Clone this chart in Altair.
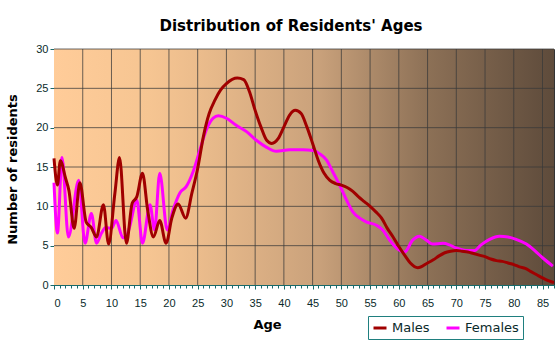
import altair as alt
import pandas as pd

# ---- data ----
male_ages = [0, 0.6, 1.1, 2, 2.6, 3.5, 4.5, 5.6, 6.5, 7.4, 8.6, 9.5, 10.6, 11.4, 12.6,
             13.6, 14.4, 15.4, 16.3, 17.3, 18.4, 19.5, 20.5, 21.6, 22.9, 24, 25, 26, 27,
             28, 29, 30, 31.9, 33, 34, 35, 36, 37, 37.9, 39, 40, 41, 42, 43, 44, 45, 46,
             47, 48, 49, 50, 51, 52, 53, 54, 55, 56, 57, 58, 59, 60, 61, 62, 63.3, 65,
             66, 67, 68, 69, 70, 71, 72, 73, 74, 75, 76, 77, 78, 79, 80, 81, 82, 83, 84,
             85, 86, 87]
male_vals = [16.1, 12.7, 15.8, 13.6, 12.0, 7.2, 13.0, 8.0, 7.3, 6.1, 10.2, 5.2, 11.7, 16.2, 5.3,
             10.4, 11.2, 14.2, 9.5, 6.1, 8.2, 5.3, 8.5, 10.3, 8.5, 11.7, 14.8, 18.9, 21.8,
             23.5, 24.8, 25.6, 26.3, 26.1, 24.6, 22.2, 20.1, 18.4, 18.0, 18.6, 20.1, 21.6, 22.2, 21.8, 20.1, 18.0, 15.8,
             14.2, 13.3, 12.9, 12.7, 12.4, 11.9, 11.2, 10.6, 10.0, 9.3, 8.5, 7.2, 6.1, 4.9, 3.8, 2.8, 2.2, 2.8,
             3.2, 3.7, 4.1, 4.3, 4.4, 4.3, 4.2, 4.0, 3.8, 3.6, 3.3, 3.1, 3.0, 2.8, 2.6, 2.3, 2.1, 1.7, 1.3,
             0.9, 0.55, 0.3]

female_ages = [0, 0.6, 1.4, 2.5, 4.3, 5.4, 6.5, 7.4, 8.2, 9, 10, 10.8, 12, 12.5, 13.2, 14.4,
               15.4, 16.7, 17.5, 18.4, 19.7, 20.7, 21.9, 23, 24.2, 25.4, 26.5, 27.7, 28.6,
               30, 31.7, 33.5, 35.2, 37, 38.7, 41, 43.3, 45.1, 46.2, 47.4, 48.5, 49.7, 50.9,
               52, 53.2, 54.4, 56.1, 57.2, 58.4, 59.6, 61, 62.4, 63.6, 64.8, 65.9, 67.7, 68.8,
               70, 71.7, 73.2, 74.3, 75.8, 77.5, 79, 80.4, 82.2, 83.6, 85.1, 86.8]
female_vals = [13.0, 6.6, 16.2, 6.1, 13.3, 5.3, 9.1, 5.3, 6.5, 7.3, 7.2, 8.2, 6.0, 6.0, 7.5, 10.8,
               5.3, 10.2, 7.0, 14.2, 7.0, 9.5, 11.7, 12.5, 14.4, 17.2, 19.7, 21.2, 21.5,
               21.2, 20.3, 19.5, 18.4, 17.5, 17.0, 17.2, 17.2, 17.1, 16.7, 15.9, 14.4, 12.7, 10.8,
               9.3, 8.5, 8.0, 7.6, 7.0, 5.7, 4.7, 4.2, 5.7, 6.2, 5.7, 5.2, 5.3, 5.1,
               4.7, 4.4, 4.4, 5.1, 5.8, 6.2, 6.1, 5.8, 5.2, 4.4, 3.4, 2.4]

series = ["Males", "Females"]
colors = ["#A00000", "#FF00FF"]
x_ticks = list(range(0, 90, 5))
x_minor = list(range(0, 88))
y_ticks = list(range(0, 35, 5))

rows = [{"age": a, "n": v, "sex": "Females"} for a, v in zip(female_ages, female_vals)]
rows += [{"age": a, "n": v, "sex": "Males"} for a, v in zip(male_ages, male_vals)]
df = pd.DataFrame(rows)

FONT = "Liberation Sans"
WIDE = "DejaVu Sans"
W, H = 500, 236
AXIS_COLOR = "#186A6A"
LABEL_COLOR = "#0A2A2A"
GRID_COLOR = "#3A3A3A"

xscale = alt.Scale(domain=[0, 87], nice=False, zero=False)
yscale = alt.Scale(domain=[0, 30], nice=False)

grad = alt.LinearGradient(
    gradient="linear",
    stops=[alt.GradientStop(color="#FFCC99", offset=0),
           alt.GradientStop(color="#F6C592", offset=0.19),
           alt.GradientStop(color="#EBBC8C", offset=0.29),
           alt.GradientStop(color="#C9A17B", offset=0.53),
           alt.GradientStop(color="#8C7056", offset=0.75),
           alt.GradientStop(color="#5E4B3B", offset=1)],
    x1=0, x2=1, y1=0, y2=0,
)

bg = alt.Chart(pd.DataFrame({"k": [0]})).mark_rect(fill=grad).encode(
    x=alt.value(0), x2=alt.value(W), y=alt.value(0), y2=alt.value(H)
)

vgrid = alt.Chart(pd.DataFrame({"g": x_ticks[1:]})).mark_rule(
    color=GRID_COLOR, strokeWidth=1, opacity=0.75
).encode(x=alt.X("g:Q", scale=xscale, axis=None))

hgrid = alt.Chart(pd.DataFrame({"g": y_ticks[1:]})).mark_rule(
    color=GRID_COLOR, strokeWidth=1, opacity=0.75
).encode(y=alt.Y("g:Q", scale=yscale, axis=None))

lines = alt.Chart(df).mark_line(interpolate="monotone", strokeWidth=3).encode(
    x=alt.X("age:Q", scale=xscale, title="Age",
            axis=alt.Axis(values=x_ticks, orient="bottom", grid=False, tickSize=4,
                          tickColor=AXIS_COLOR, domainColor=AXIS_COLOR, labelFont=FONT,
                          labelFontSize=11, labelColor=LABEL_COLOR, labelPadding=8,
                          titleFont=WIDE, titleFontSize=13, titleFontWeight="bold",
                          titleColor="#000000", titleX=213, titleY=39,
                          titleBaseline="middle", titleAlign="center")),
    y=alt.Y("n:Q", scale=yscale, title="Number of residents",
            axis=alt.Axis(values=y_ticks, orient="left", grid=False, tickSize=4,
                          tickColor=AXIS_COLOR, domainColor=AXIS_COLOR, labelFont=FONT,
                          labelFontSize=11, labelColor=LABEL_COLOR, labelPadding=2,
                          titleFont=WIDE, titleFontSize=13, titleFontWeight="bold",
                          titleColor="#000000", titleX=-42, titleY=H / 2 + 2,
                          titleBaseline="middle", titleAlign="center", titleAngle=-90)),
    color=alt.Color("sex:N", scale=alt.Scale(domain=series, range=colors),
                    legend=alt.Legend(title=None, orient="none", legendX=314, legendY=267,
                                      direction="horizontal", symbolType="stroke",
                                      symbolStrokeWidth=3, symbolSize=169, labelFont=WIDE,
                                      labelFontSize=13, labelColor=LABEL_COLOR, labelOffset=4,
                                      columnPadding=10, strokeColor="#1F7F7F", padding=4)),
)

minor = alt.Chart(pd.DataFrame({"age": x_minor})).mark_point(opacity=0).encode(
    x=alt.X("age:Q", scale=xscale, title=None,
            axis=alt.Axis(values=x_minor, orient="bottom", grid=False, labels=False,
                          tickSize=3, tickColor=AXIS_COLOR, domain=False)),
)

chart = alt.layer(bg, vgrid, hgrid, lines, minor).resolve_axis(
    x="independent", y="independent"
).properties(
    width=W, height=H,
    title=alt.TitleParams("Distribution of Residents' Ages", font=WIDE, fontSize=15,
                          fontWeight="bold", color="#000000", anchor="middle", dx=-13,
                          offset=9),
    autosize=alt.AutoSizeParams(type="none"),
    padding={"left": 54, "top": 49, "right": 6, "bottom": 68},
    background="#FFFFFF",
).configure_view(stroke="#333333", strokeWidth=1)

chart.save("out.html", embed_options={"renderer": "svg", "actions": False})
